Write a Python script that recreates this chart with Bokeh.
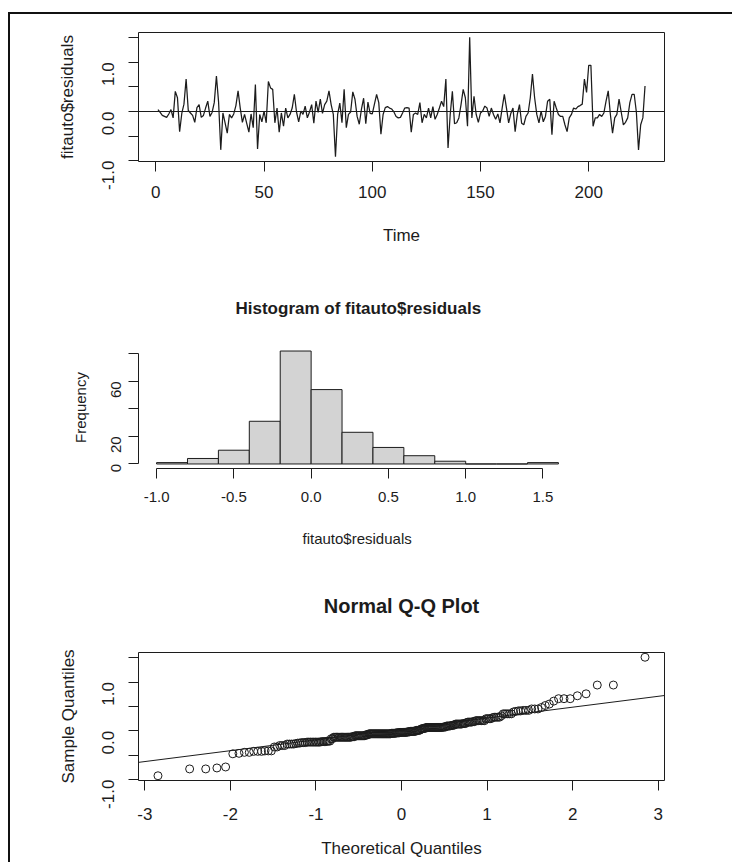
import math
from statistics import NormalDist

from bokeh.plotting import figure
from bokeh.layouts import column
from bokeh.models import FixedTicker, Span, Slope, Title
from bokeh.embed import file_html
from bokeh.resources import INLINE

# ---------------- data ----------------
residuals = [
    0.04, -0.02, -0.08, -0.10, -0.12, -0.05, 0.04, -0.13, 0.41, 0.28,
    -0.41, -0.04, 0.15, 0.66, 0.02, -0.03, -0.08, -0.22, 0.08, 0.14,
    -0.12, -0.08, 0.07, 0.21, -0.10, -0.02, 0.18, 0.72, 0.19, -0.78,
    -0.03, -0.23, -0.44, -0.06, -0.13, -0.05, 0.12, 0.42, 0.07, -0.22,
    -0.06, -0.24, -0.42, -0.05, -0.33, 0.55, -0.76, -0.06, -0.21, 0.01,
    -0.23, 0.61, 0.48, 0.45, -0.23, 0.07, -0.42, -0.03, -0.30, 0.07,
    -0.13, -0.06, 0.07, 0.35, -0.01, -0.21, 0.01, -0.06, 0.11, -0.13,
    -0.01, 0.14, -0.24, 0.21, -0.02, 0.25, -0.04, 0.14, 0.21, 0.42,
    0.14, -0.06, -0.92, -0.06, 0.17, -0.23, 0.45, -0.33, -0.06, -0.01,
    0.40, 0.25, -0.10, -0.26, 0.05, 0.27, -0.25, 0.19, -0.04, -0.05,
    0.15, 0.35, 0.18, -0.46, -0.06, 0.08, 0.10, 0.07, 0.05, -0.01,
    -0.10, -0.13, -0.12, -0.03, 0.07, 0.08, 0.07, -0.42, -0.06, -0.03,
    -0.06, 0.18, -0.23, -0.06, -0.13, 0.07, -0.13, 0.10, -0.16, -0.06,
    0.07, 0.21, 0.10, 0.66, -0.74, -0.06, 0.41, -0.25, -0.23, -0.13,
    0.14, 0.45, 0.28, -0.30, 1.51, -0.13, 0.31, -0.06, -0.22, -0.03,
    0.01, 0.11, 0.07, -0.10, 0.07, -0.06, -0.16, -0.05, -0.23, 0.07,
    0.35, 0.07, -0.23, -0.04, 0.07, -0.41, -0.06, 0.14, -0.24, -0.27,
    -0.10, -0.03, 0.28, 0.76, 0.28, -0.06, -0.23, 0.01, -0.21, -0.10,
    0.21, 0.25, -0.47, 0.21, 0.07, -0.06, -0.10, -0.10, -0.27, -0.41,
    -0.13, -0.06, 0.07, 0.05, 0.10, 0.12, 0.15, 0.66, 0.39, 0.94,
    0.94, -0.30, -0.13, -0.13, -0.06, -0.10, -0.03, 0.21, 0.42, -0.06,
    -0.44, -0.13, -0.06, 0.25, -0.01, -0.27, -0.22, -0.13, 0.18, 0.35,
    0.35, -0.01, -0.78, -0.27, -0.13, 0.52,
]
time_index = list(range(1, len(residuals) + 1))

hist_edges = [-1.0, -0.8, -0.6, -0.4, -0.2, 0.0, 0.2, 0.4, 0.6, 0.8, 1.0, 1.2, 1.4, 1.6]
hist_counts = [1, 4, 10, 31, 82, 54, 23, 12, 6, 2, 0, 0, 1]

ts_xticks = [0, 50, 100, 150, 200]
ts_xlabels = ["0", "50", "100", "150", "200"]
resid_yticks = [-1.0, -0.5, 0.0, 0.5, 1.0, 1.5]
resid_ylabels = ["-1.0", "", "0.0", "", "1.0", ""]
hist_xticks = [-1.0, -0.5, 0.0, 0.5, 1.0, 1.5]
hist_xlabels = ["-1.0", "-0.5", "0.0", "0.5", "1.0", "1.5"]
hist_yticks = [0, 20, 40, 60, 80]
hist_ylabels = ["0", "20", "", "60", ""]
qq_xticks = [-3, -2, -1, 0, 1, 2, 3]
qq_xlabels = ["-3", "-2", "-1", "0", "1", "2", "3"]
qq_line_intercept = 0.04
qq_line_slope = 0.223

# Normal Q-Q: sorted residuals against normal quantiles of ppoints(n)
n = len(residuals)
sample_q = sorted(residuals)
theo_q = [NormalDist().inv_cdf((i - 0.5) / n) for i in range(1, n + 1)]

FONT = "Liberation Sans"
INK = "#1c1c1c"
FS_MAIN = "17px"   # time-series and Q-Q panels
FS_HIST = "15px"   # histogram panel (smaller in the source)

# shared frame (column aligns plot frames): x 138..664 on the page
FRAME_L, FRAME_R = 128, 68


def r_range(lo, hi):
    d = (hi - lo) * 0.04
    return (lo - d, hi + d)


def base_fig(h, xr, yr, top, bottom):
    p = figure(width=722, height=h, x_range=xr, y_range=yr,
               output_backend="svg", toolbar_location=None,
               min_border_left=FRAME_L, min_border_right=FRAME_R,
               min_border_top=top, min_border_bottom=bottom)
    p.xgrid.visible = False
    p.ygrid.visible = False
    p.background_fill_color = "white"
    p.border_fill_color = "white"
    return p


def style_axis(ax, ticks, labels, label, tick_std, label_std, fs, vertical=False):
    ax.ticker = FixedTicker(ticks=ticks)
    ax.major_label_overrides = {t: s for t, s in zip(ticks, labels)}
    ax.bounds = (min(ticks), max(ticks))
    ax.axis_label = label
    ax.minor_tick_line_color = None
    ax.major_tick_out = 10
    ax.major_tick_in = 0
    ax.major_label_standoff = tick_std
    ax.axis_label_standoff = label_std
    ax.major_label_text_font = FONT
    ax.major_label_text_font_size = fs
    ax.major_label_text_color = INK
    ax.axis_label_text_font = FONT
    ax.axis_label_text_font_size = fs
    ax.axis_label_text_font_style = "normal"
    ax.axis_label_text_color = INK
    ax.axis_line_color = INK
    ax.major_tick_line_color = INK
    if vertical:
        ax.major_label_orientation = math.pi / 2


def make_title(text, size, style, align, offset, standoff, valign):
    return Title(text=text, align=align, offset=offset, standoff=standoff,
                 vertical_align=valign, text_font=FONT, text_font_size=size,
                 text_font_style=style, text_color=INK)


resid_range = r_range(min(residuals), max(residuals))

# ---------------- panel 1 : residual series ----------------
p1 = base_fig(248, r_range(1, n), resid_range, 18, 101)
p1.outline_line_color = INK
p1.line(time_index, residuals, line_color=INK, line_width=1.25)
p1.add_layout(Span(location=0, dimension="width", line_color=INK, line_width=1))
style_axis(p1.xaxis[0], ts_xticks, ts_xlabels, "Time", 14, 25, FS_MAIN)
style_axis(p1.yaxis[0], resid_yticks, resid_ylabels, "fitauto$residuals", 20, 17, FS_MAIN,
           vertical=True)

# ---------------- panel 2 : histogram ----------------
# the histogram's own plot region is narrower (page x 140..574) than the shared frame
h_lo, h_hi = r_range(hist_edges[0], hist_edges[-1])
h_scale = (574 - 140) / (h_hi - h_lo)
hist_xr = (h_lo - (140 - 138) / h_scale, h_hi + (664 - 574) / h_scale)
p2 = base_fig(382, hist_xr, r_range(0, max(hist_counts)), 84, 176)
p2.outline_line_color = None
p2.quad(left=hist_edges[:-1], right=hist_edges[1:], bottom=0, top=hist_counts,
        fill_color="#d3d3d3", line_color=INK, line_width=1)
style_axis(p2.xaxis[0], hist_xticks, hist_xlabels, None, 13, 0, FS_HIST)
style_axis(p2.yaxis[0], hist_yticks, hist_ylabels, "Frequency", 12, 15, FS_HIST, vertical=True)
# title and x label are centred on the histogram's own (narrower) plot region
p2.add_layout(make_title("Histogram of fitauto$residuals", "17px", "bold",
                         "left", 97, 57, "bottom"), "above")
p2.add_layout(make_title("fitauto$residuals", FS_HIST, "normal",
                         "left", 164, 49, "middle"), "below")
# the Q-Q panel's main title sits in the gap below the histogram
p2.add_layout(make_title("Normal Q-Q Plot", "20px", "bold",
                         "center", 0, 42, "middle"), "below")

# ---------------- panel 3 : normal Q-Q ----------------
p3 = base_fig(218, r_range(min(theo_q), max(theo_q)), resid_range, 8, 82)
p3.outline_line_color = INK
p3.scatter(theo_q, sample_q, marker="circle", size=8, fill_color=None,
           line_color=INK, line_width=1)
p3.add_layout(Slope(gradient=qq_line_slope, y_intercept=qq_line_intercept,
                    line_color=INK, line_width=1))
style_axis(p3.xaxis[0], qq_xticks, qq_xlabels, "Theoretical Quantiles", 17, 16, FS_MAIN)
style_axis(p3.yaxis[0], resid_yticks, resid_ylabels, "Sample Quantiles", 20, 16, FS_MAIN,
           vertical=True)

layout = column(p1, p2, p3, margin=(12, 0, 0, 8),
                styles={"border-left": "2px solid #111", "border-top": "2px solid #111"})

open("out.html", "w").write(file_html(layout, INLINE))
